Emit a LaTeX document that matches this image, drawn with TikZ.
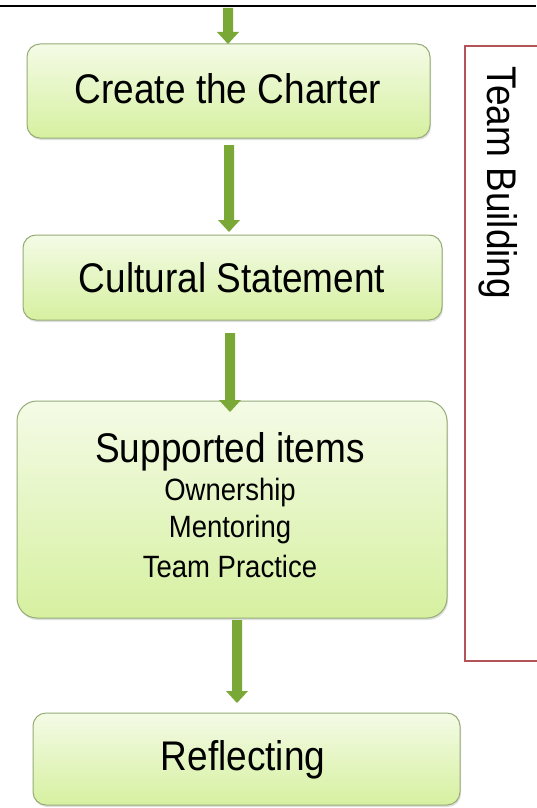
\documentclass[tikz,border=0pt]{standalone}
\usepackage{fontspec}
\setmainfont{Liberation Sans}
\usetikzlibrary{arrows.meta,shadows}
\definecolor{boxtop}{RGB}{244,251,230}
\definecolor{boxbot}{RGB}{214,240,160}
\definecolor{boxline}{RGB}{150,172,118}
\definecolor{arrowgreen}{RGB}{122,168,54}
\definecolor{framered}{RGB}{178,84,88}
\tikzset{
  stage/.style={draw=boxline, line width=1pt, top color=boxtop, bottom color=boxbot,
    rounded corners=13pt, drop shadow={shadow xshift=1pt, shadow yshift=-2pt, opacity=0.25}},
  bigfont/.style={font=\fontsize{37}{40}\selectfont, inner sep=0pt},
  bigtext/.style={bigfont, yscale=1.12},
  smalltext/.style={font=\fontsize{27.5}{30}\selectfont, inner sep=0pt, yscale=1.12},
}
% a flow arrow: shaft 10 wide, head 22 wide and 12 long
\newcommand{\flowarrow}[3]{% x, y top, y tip
  \fill[arrowgreen] (#1-5,#2) -- (#1+5,#2) -- (#1+5,#3-12) -- (#1+11,#3-12)
    -- (#1,#3) -- (#1-11,#3-12) -- (#1-5,#3-12) -- cycle;}
\begin{document}
\begin{tikzpicture}[x=1pt,y=-1pt]
\useasboundingbox (0,0) rectangle (536,808);
\fill[white] (0,0) rectangle (536,808);
% rule along the top
\coordinate (ruleL) at (0,6);
\coordinate (ruleR) at (536,6);
\draw[line width=2pt] (ruleL) -- (ruleR);

% bracket frame on the right
\draw[framered, line width=2pt] (550,46) -- (465,46) -- (465,661) -- (550,661);
\node[bigfont, rotate=-90, yscale=1.12, anchor=base] (team) at (487,183) {Team Building};

% stages
\draw[stage] (27,44) rectangle (430,138);
\node[bigtext, anchor=base] (charter) at (228,103) {Create the Charter};

\draw[stage] (23,235) rectangle (442,320);
\node[bigtext, anchor=base] (culture) at (232,292) {Cultural Statement};

\draw[stage, rounded corners=20pt] (17,401) rectangle (447,618);
\node[bigtext, anchor=base] (support) at (230,462) {Supported items};
\node[smalltext, anchor=base] (own) at (230,500) {Ownership};
\node[smalltext, anchor=base] (ment) at (230,537) {Mentoring};
\node[smalltext, anchor=base] (prac) at (230,577) {Team Practice};

\draw[stage] (33,713) rectangle (460,805);
\node[bigtext, anchor=base] (reflect) at (243,770) {Reflecting};

% connectors
\flowarrow{228}{8}{44}
\flowarrow{229}{145}{232}
\flowarrow{230}{333}{412}
\flowarrow{237}{620}{703}
\end{tikzpicture}
\end{document}
